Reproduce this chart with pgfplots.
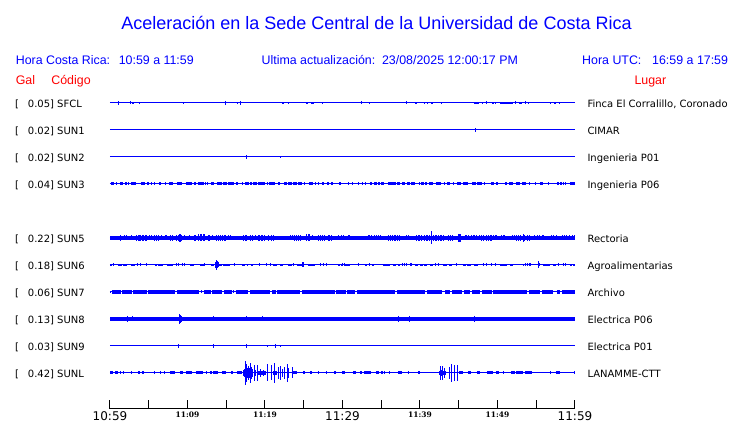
\documentclass[border=0pt]{standalone}
\usepackage{pgfplots}
\usepackage{pgfplotstable}
\pgfplotsset{compat=1.18}
\usepackage{fontspec}
\setmainfont{DejaVu Sans}
\newfontfamily\lib{Liberation Sans}
\newfontfamily\djs{DejaVu Serif}
\definecolor{tr}{RGB}{0,0,255}
\definecolor{rd}{RGB}{255,0,0}

% ---- data: p = pixel x position (110 = 10:59, 575 = 11:59), a = half amplitude; bands p..q
\pgfplotstableread[row sep=\\]{p a\\ 118.3 1.7\\ 130.3 1.5\\ 139.3 1.2\\ 183.3 1\\ 225.3 1.7\\ 237.3 1.2\\ 240.3 1.7\\ 288.3 1.3\\ 322.3 1\\ 361.3 1.5\\ 369.7 0.8\\ 406.3 1.5\\ 424.3 1.3\\ 427.7 1\\ 441.3 1\\ 482.7 1\\ 486 1.5\\ 495 1.3\\ 515.7 1.5\\ 525.7 1.5\\ 528.3 0.8\\ 551 1.3\\ 560 1\\}\sfclS
\pgfplotstableread[row sep=\\]{p q\\ 132 134.3\\ 282 284\\ 306 307.5\\ 311.3 314.3\\ 415.5 417\\ 431 432.5\\ 474 479.3\\ 492 493.5\\ 500 513.3\\ 518.7 521.7\\ 553.7 555.7\\}\sfclB
\pgfplotstableread[row sep=\\]{p a\\ 475.3 2\\}\sunAS
\pgfplotstableread[row sep=\\]{p a\\ 246.3 2.3\\ 281 1\\}\sunBS
\pgfplotstableread[row sep=\\]{p q\\ 110.7 114\\ 120.3 123.3\\ 125 126.7\\ 127.7 129.3\\ 130.7 135.7\\ 141 145\\ 147.3 148.7\\ 159 160.7\\ 169 173.3\\ 176.7 182.3\\ 186 191.7\\ 194.3 195.7\\ 198 203.7\\ 211 213.7\\ 216.7 221.7\\ 223.3 226.7\\ 227.7 234\\ 236.3 237.7\\ 245 248.7\\ 250.3 252\\ 253.3 257.3\\ 258.3 265\\ 268.7 275.3\\ 278.3 280.3\\ 284 287\\ 288.3 292.3\\ 293.3 296.7\\ 297.7 302.3\\ 308.7 313\\ 322 324\\ 327.3 329\\ 330.7 333\\ 339.3 341\\ 361.7 363.3\\ 370 372\\ 374.3 376.7\\ 377.7 380\\ 381.3 383.7\\ 388.3 391.7\\ 392.3 396\\ 397.3 400\\ 403.3 404.3\\ 406.7 409.7\\ 411 414.7\\ 421 423.7\\ 424.7 427.3\\ 429.3 433.3\\ 436.3 440.7\\ 443.7 445\\ 446.7 450\\ 456.7 461.3\\ 463 467.7\\ 471.7 476\\ 476.7 481.7\\ 490.7 494\\ 504.7 507.3\\ 509.3 513.3\\ 516 520.3\\ 521.7 526\\ 540.3 543\\ 556.7 558.7\\ 560 561.7\\ 569.7 575\\}\sunCB
\pgfplotstableread[row sep=\\]{p a\\ 116.7 1.5\\ 151.7 1.5\\ 155 1.5\\ 166 1.5\\ 205.7 1.5\\ 208 1.5\\ 242.7 1.5\\ 267.3 1.5\\ 304.3 1.5\\ 315.3 1.5\\ 318.3 1.5\\ 348.3 1.5\\ 352.7 1.5\\ 358.3 1.5\\ 366 1.5\\ 402.3 1.5\\ 419.3 1.5\\ 454 1.5\\ 485 1.5\\ 496.3 1.5\\ 498 1.5\\ 529.3 1.5\\ 535.3 1.5\\ 548.3 1.5\\ 563.7 1.5\\ 565.3 1.5\\}\sunCS
\pgfplotstableread[row sep=\\]{p q\\ 110 575\\}\fullB
\pgfplotstableread[row sep=\\]{p a\\ 112.3 2.3\\ 114.3 2.3\\ 116.7 2.3\\ 118.3 2.3\\ 121 2.7\\ 125 2.5\\ 127 2.5\\ 131.7 2.5\\ 137 3.3\\ 138.5 3.3\\ 139.7 3.3\\ 141 3\\ 142.5 3\\ 144 3\\ 145.5 3\\ 146.7 3\\ 150 2.5\\ 151.7 2.5\\ 155 2.7\\ 157 2.7\\ 159 2.7\\ 161.7 2.5\\ 165.7 2.5\\ 167 2.5\\ 170.7 2.7\\ 172.7 2.7\\ 177 3\\ 178.5 3\\ 179.5 4.3\\ 180.5 4.3\\ 181.7 3\\ 185 2.5\\ 190 2.5\\ 194.3 2.7\\ 195.7 2.7\\ 199 3.5\\ 200.5 3.5\\ 202 3.5\\ 203.5 3.5\\ 205 3.5\\ 208.3 3\\ 210 3\\ 212.3 2.5\\ 216 2.7\\ 218.3 2.7\\ 220 2.7\\ 222 2.7\\ 224 2.7\\ 225 2.7\\ 228.3 2.5\\ 230 2.5\\ 233.3 2.3\\ 237.3 2.3\\ 244 2.7\\ 245.5 2.7\\ 247 2.7\\ 250 2.7\\ 252.3 2.7\\ 255 2.5\\ 258.5 3\\ 260 3\\ 261.5 3\\ 263 3\\ 265 3\\ 269 2.7\\ 271 2.7\\ 273 2.7\\ 276.7 2.3\\ 282.3 2.3\\ 287.3 2.3\\ 290.7 2.5\\ 292.7 2.5\\ 295 2.7\\ 297 2.7\\ 299 2.7\\ 301 2.7\\ 306.7 3.5\\ 308.3 3.5\\ 310 3.5\\ 312.7 2.5\\ 318.5 2.7\\ 320.5 2.7\\ 322.5 2.7\\ 325 2.7\\ 328 2.7\\ 330 2.7\\ 332 2.7\\ 338.5 2.5\\ 341 2.5\\ 343.5 2.5\\ 348.3 2.5\\ 350 2.5\\ 353.3 2.3\\ 358.3 2.3\\ 361.7 2.3\\ 368.3 2.5\\ 370 2.5\\ 371.7 2.5\\ 375 2.5\\ 377 2.5\\ 379 2.5\\ 381 2.5\\ 388.3 3.3\\ 390 3.3\\ 392 2.7\\ 394 2.7\\ 396 2.7\\ 398 2.7\\ 400 2.7\\ 406.7 2.5\\ 408.3 2.5\\ 417 3.3\\ 418.5 3.3\\ 420 3.3\\ 422 3\\ 424 3\\ 426 3\\ 428 3\\ 430 3\\ 432 6.5\\ 433.5 3.3\\ 435 3.3\\ 436.5 3.3\\ 438 3.3\\ 440 2.7\\ 441.7 2.7\\ 443.3 2.7\\ 448.5 2.7\\ 450.5 2.7\\ 452.5 2.7\\ 458.3 4\\ 459.5 4\\ 460.7 4\\ 465 2.5\\ 466.7 2.5\\ 468.3 2.5\\ 471.7 2.5\\ 473.3 2.5\\ 475 2.5\\ 476.7 2.5\\ 479.3 2.5\\ 482 2.7\\ 484 2.7\\ 486 2.7\\ 488 2.7\\ 490 2.7\\ 491.7 2.7\\ 493.3 2.5\\ 495 2.5\\ 496.7 2.5\\ 501.7 2.5\\ 503.3 2.5\\ 505 2.5\\ 512.7 2.5\\ 515 2.5\\ 517 2.7\\ 519 2.7\\ 521 2.7\\ 523.3 4\\ 525 2.7\\ 527 2.7\\ 529 2.7\\ 535 2.5\\ 537.5 2.5\\ 540 2.5\\ 542.3 2.5\\ 544 2.5\\ 546.7 2.3\\ 551.7 2.5\\ 554 2.5\\ 556.7 2.5\\ 562.7 2.5\\ 564.3 2.5\\ 566 2.5\\ 570 2.5\\ 572.5 2.5\\ 575 2.5\\}\sunES
\pgfplotstableread[row sep=\\]{p q\\ 110 111.7\\ 118.3 121.7\\ 123.3 126.7\\ 131 135\\ 155 156.7\\ 158.3 163.3\\ 166.7 173.3\\ 190 194.3\\ 200 204.3\\ 211 214.3\\ 215.3 218.3\\ 218.3 221.7\\ 223.3 230\\ 241.7 245\\ 246.7 248.3\\ 250.7 253.3\\ 272.7 276.7\\ 280 283.3\\ 288.3 291.7\\ 296.7 304.3\\ 308.3 315\\ 338.3 340\\ 341 343.3\\ 345 350\\ 365 366.7\\ 372 374.3\\ 383.3 390\\ 393.3 396\\ 398.3 400\\ 415 418.3\\ 420 422.7\\ 424 427.3\\ 430 433.3\\ 443.3 446.7\\ 449 451.7\\ 463.3 466\\ 466.7 470.7\\ 474 478.3\\ 500 502.7\\ 503.3 506.7\\ 510 513.3\\ 522.7 524.3\\ 543.3 550\\ 553.3 556\\ 570 571.7\\ 573.3 575\\}\sunFB
\pgfplotstableread[row sep=\\]{p a\\ 113.7 1.5\\ 137.3 1.5\\ 140.7 1.5\\ 146.7 1.5\\ 176.7 1.5\\ 179 1.5\\ 182.3 1.5\\ 185 1.5\\ 205 1.5\\ 215.5 3\\ 216.3 5.2\\ 217.2 3.5\\ 218.3 2.5\\ 235 1.5\\ 260 1.5\\ 266.7 1.5\\ 270.7 1.5\\ 293.3 1.5\\ 302.5 2.5\\ 304 2.5\\ 321 1.5\\ 323.3 1.5\\ 326 1.5\\ 342.3 1.5\\ 344.3 1.5\\ 358.3 1.5\\ 369.3 1.5\\ 402.3 1.5\\ 404.3 1.5\\ 406 1.5\\ 410 1.5\\ 411.7 1.5\\ 435 1.5\\ 438.3 1.5\\ 456.7 1.5\\ 483.3 1.5\\ 486.7 1.5\\ 491.7 1.5\\ 495 1.5\\ 525.3 1.5\\ 527.3 1.5\\ 529.3 1.5\\ 530.7 1.5\\ 538.5 3.5\\ 540 1.5\\ 558.3 1.5\\ 563.3 1.5\\ 565 1.5\\}\sunFS
\pgfplotstableread[row sep=\\]{p q\\ 111.7 121\\ 122.3 131.7\\ 133.3 146.7\\ 148.3 175\\ 176.7 199.3\\ 204.3 211\\ 212.3 221.7\\ 224.3 231.7\\ 236 247.7\\ 250 270\\ 272.3 275\\ 276.7 300\\ 301.7 335\\ 336 343.3\\ 340 346\\ 347.3 355\\ 356.7 376\\ 377.3 395\\ 396.7 425\\ 427.3 441.7\\ 445 450\\ 451.7 461.7\\ 464 470\\ 471.7 480\\ 481.7 491.7\\ 493.3 526.7\\ 528.7 540\\ 541.7 553.3\\ 556.7 560\\ 561.7 575\\}\sunGB
\pgfplotstableread[row sep=\\]{p a\\ 110.7 1\\ 163.3 2\\ 201.7 1.5\\ 233.3 1.5\\ 269.3 2\\ 275.7 1.8\\ 376 2\\ 385 1.8\\ 559 2\\}\sunGS
\pgfplotstableread[row sep=\\]{p a\\ 127.7 2.7\\ 132.3 2.5\\ 179.3 4.8\\ 180.3 4\\ 181.3 3\\ 213.3 2.5\\ 246.7 2.5\\ 262.3 2.5\\ 363.3 2.2\\ 398.3 2.7\\ 409.3 2.7\\ 465 2.2\\ 474.3 2.7\\ 566.7 2.3\\}\sunHS
\pgfplotstableread[row sep=\\]{p a\\ 179 2\\ 213.3 2\\ 246.7 2\\ 267.3 1.2\\ 275.3 1.7\\ 281 1.2\\}\sunIS
\pgfplotstableread[row sep=\\]{p q\\ 110 113.3\\ 115 118.3\\ 137.7 140\\ 142.3 144.3\\ 170 175\\ 180 183.3\\ 186 191.7\\ 195.7 203.3\\ 210 211.7\\ 213.3 218.3\\ 221.7 226\\ 231 233.3\\ 236.7 241.7\\ 293.3 296.7\\ 303.3 305\\ 310 311.7\\ 334.3 336\\ 341.7 345\\ 352.7 356\\ 360 361.7\\ 364 370.7\\ 376 379.3\\ 380.7 382.7\\ 398.3 401.7\\ 418.3 420\\ 458.7 462.7\\ 468.3 470.7\\ 476.7 480\\ 486.7 492.7\\ 496 499.3\\ 510.7 515\\ 516 522.7\\ 525.3 531.7\\ 556 560\\}\sunLB
\pgfplotstableread[row sep=\\]{p q\\ 243.3 253.3\\ 258 266\\ 272.7 277\\ 439.3 446\\}\sunLBB
\pgfplotstableread[row sep=\\]{p a\\ 121 1.5\\ 123.3 1.5\\ 131.7 1.5\\ 155 1.5\\ 161 1.5\\ 165 1.5\\ 206.7 1.5\\ 243.5 3\\ 244.3 4\\ 245 12\\ 245.8 6\\ 246.7 9\\ 247.5 5\\ 248.3 7\\ 249.2 5\\ 250 10\\ 250.8 5\\ 251.7 6\\ 252.5 4\\ 254.3 8\\ 255.5 3\\ 257.7 8\\ 261 4\\ 263.3 3\\ 267.3 8.5\\ 271.7 7.5\\ 275 10\\ 278.3 6\\ 280.7 7\\ 282.7 4\\ 285 6\\ 287.3 9\\ 289 5\\ 292.3 5.5\\ 318.3 1.5\\ 326 1.5\\ 385 1.5\\ 389.3 1.5\\ 408.3 1.5\\ 440 7.3\\ 441.7 3\\ 443 7\\ 444.3 5\\ 449.3 6\\ 451.3 9\\ 454.3 8\\ 457.3 8\\ 503.3 1.5\\ 550 1.5\\ 575 1.5\\}\sunLS

\newcommand{\spk}[2]{\addplot[draw=none,forget plot,error bars/.cd,y dir=both,y explicit,error mark=none,error bar style={draw=tr,solid,line width=1pt}] table[x expr=(\thisrow{p}-110)/7.75,y expr=#2,y error=a]{#1};}
\newcommand{\bnd}[3]{\addplot[draw=none,forget plot,error bars/.cd,x dir=both,x explicit,error mark=none,error bar style={draw=tr,solid,line width=#3}] table[x expr=(\thisrow{p}+\thisrow{q}-220)/15.5,y expr=#2,x error expr=(\thisrow{q}-\thisrow{p})/15.5]{#1};}
\newcommand{\base}[1]{\addplot[tr,line width=1pt,forget plot] coordinates {(0,#1) (60,#1)};}
\newcommand{\lab}[4]{%
\node[anchor=base west,inner sep=0pt,font=\fontsize{10}{12}\selectfont] at (-95pt,#1) {[};
\node[anchor=base west,inner sep=0pt,font=\fontsize{10}{12}\selectfont] at (-82.3pt,#1) {#2] #3};
\node[anchor=base west,inner sep=0pt,font=\fontsize{10}{12}\selectfont] at (477.3pt,#1) {#4};}
\newcommand{\bigtick}[1]{\fontsize{12}{12}\selectfont #1}
\newcommand{\smalltick}[1]{\djs\bfseries\fontsize{7.5}{8}\selectfont #1}

\begin{document}
\begin{tikzpicture}
\useasboundingbox (-110pt,-14pt) rectangle (630pt,409pt);
\begin{axis}[
 scale only axis, width=465pt, height=314pt,
 xmin=0, xmax=60, ymin=-409, ymax=-95,
 axis x line*=bottom, axis y line=none,
 x axis line style={-, black, line width=1pt},
 xtick={0,5,...,60}, xtick align=inside, major tick length=9pt,
 xtick style={black, line width=1pt},
 xticklabels={{\bigtick{10:59}},,{\smalltick{11:09}},,{\smalltick{11:19}},,{\bigtick{11:29}},,{\smalltick{11:39}},,{\smalltick{11:49}},,{\bigtick{11:59}}},
 xticklabel style={anchor=north, inner sep=0pt, yshift=-2.5pt},
 clip=false,
]
% SFCL
\base{-103}\bnd{\sfclB}{-103}{2.8pt}\spk{\sfclS}{-103}
% SUN1
\base{-130}\spk{\sunAS}{-130}
% SUN2
\base{-157}\spk{\sunBS}{-157}
% SUN3
\base{-184}\bnd{\sunCB}{-184}{3pt}\spk{\sunCS}{-184}
% SUN5
\base{-238}\bnd{\fullB}{-238}{3.7pt}\spk{\sunES}{-238}
% SUN6
\base{-265}\bnd{\sunFB}{-265}{2.8pt}\spk{\sunFS}{-265}
% SUN7
\base{-292}\bnd{\sunGB}{-292}{3.2pt}\spk{\sunGS}{-292}
% SUN8
\base{-319}\bnd{\fullB}{-319}{3.7pt}\spk{\sunHS}{-319}
% SUN9
\base{-346}\spk{\sunIS}{-346}
% SUNL
\base{-373}\bnd{\sunLB}{-373}{3pt}\bnd{\sunLBB}{-373}{4.5pt}\spk{\sunLS}{-373}
\end{axis}
\node[anchor=base,inner sep=0pt,text=tr,font=\lib\fontsize{18}{21}\selectfont] at (266.5pt,379pt) {Aceleración en la Sede Central de la Universidad de Costa Rica};
\begin{scope}[every node/.style={anchor=base west,inner sep=0pt,text=tr,font=\lib\fontsize{12.4}{14}\selectfont}]
\node at (-94.4pt,344pt) {Hora Costa Rica:};
\node at (8.6pt,344pt) {10:59 a 11:59};
\node at (151.4pt,344pt) {Ultima actualización:};
\node at (271.9pt,344pt) {23/08/2025 12:00:17 PM};
\node at (472pt,344pt) {Hora UTC:};
\node at (542pt,344pt) {16:59 a 17:59};
\end{scope}
\begin{scope}[every node/.style={anchor=base west,inner sep=0pt,text=rd,font=\lib\fontsize{12.4}{14}\selectfont}]
\node at (-94.4pt,324.7pt) {Gal};
\node at (-58.8pt,324.7pt) {Código};
\node at (524.3pt,324.7pt) {Lugar};
\end{scope}
\lab{301.7pt}{0.05}{SFCL}{Finca El Corralillo, Coronado}
\lab{274.7pt}{0.02}{SUN1}{CIMAR}
\lab{247.7pt}{0.02}{SUN2}{Ingenieria P01}
\lab{220.7pt}{0.04}{SUN3}{Ingenieria P06}
\lab{166.7pt}{0.22}{SUN5}{Rectoria}
\lab{139.7pt}{0.18}{SUN6}{Agroalimentarias}
\lab{112.7pt}{0.06}{SUN7}{Archivo}
\lab{85.7pt}{0.13}{SUN8}{Electrica P06}
\lab{58.7pt}{0.03}{SUN9}{Electrica P01}
\lab{31.7pt}{0.42}{SUNL}{LANAMME-CTT}
\end{tikzpicture}
\end{document}
